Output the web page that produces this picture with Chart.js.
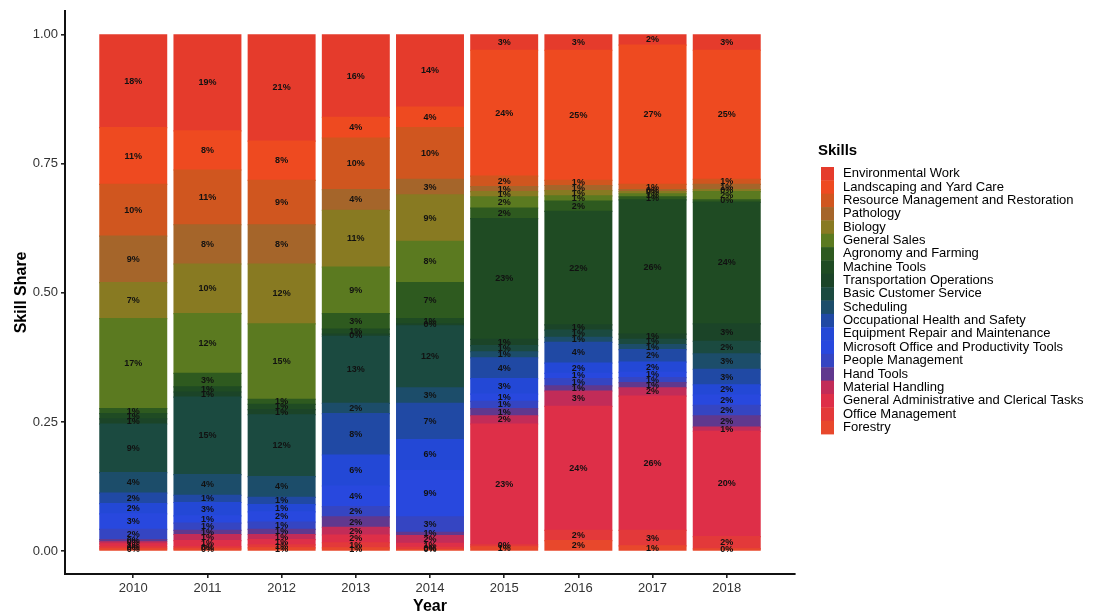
<!DOCTYPE html>
<html><head><meta charset="utf-8">
<script src="https://cdn.jsdelivr.net/npm/chart.js@4.4.0/dist/chart.umd.min.js"></script>
<style>html,body{margin:0;padding:0;background:#fff}canvas{display:block}</style>
</head><body>
<canvas id="c" width="1099" height="616"></canvas>
<script>
const years = ['2010','2011','2012','2013','2014','2015','2016','2017','2018'];
const skills = ['Environmental Work','Landscaping and Yard Care','Resource Management and Restoration','Pathology','Biology','General Sales','Agronomy and Farming','Machine Tools','Transportation Operations','Basic Customer Service','Scheduling','Occupational Health and Safety','Equipment Repair and Maintenance','Microsoft Office and Productivity Tools','People Management','Hand Tools','Material Handling','General Administrative and Clerical Tasks','Office Management','Forestry'];
const colors = ['#E53B2C','#EE4A20','#D0561F','#A5652A','#887A22','#5B7A20','#2E5A1F','#1F4B23','#1B4428','#1B4A40','#1C4D6A','#2049A4','#2348D6','#2848DE','#3545C2','#60388E','#C22C58','#DE2F48','#E3393A','#E8482C'];

const environmentalWork   = [18, 18.6, 20.6, 16, 14, 3, 3, 2, 3];
const landscaping         = [11, 7.6, 7.6, 4, 4, 24.4, 25.2, 27, 25];
const resourceManagement  = [10, 10.6, 8.6, 10, 10, 2, 1, 1, 1];
const pathology           = [9, 7.6, 7.6, 4, 3, 1, 1, 0.4, 1];
const biology             = [7, 9.6, 11.6, 11, 9, 1, 1, 0.4, 0.4];
const generalSales        = [17.4, 11.6, 14.6, 9, 8, 2.2, 1, 0.6, 1.6];
const agronomy            = [1, 2.6, 1, 3, 7, 2, 2, 0.6, 0.4];
const machineTools        = [1, 1, 1, 1, 1, 23.4, 22, 26, 23.6];
const transportation      = [1, 1, 1, 0.4, 0.4, 1.2, 1, 1, 3.4];
const customerService     = [9.4, 15, 12, 13, 12, 1.2, 1.4, 1, 2.4];
const scheduling          = [4, 4, 4, 2, 3, 1.2, 1, 1, 3];
const occupationalHealth  = [2, 1.4, 1.4, 8, 7, 4, 4, 2.4, 3];
const equipmentRepair     = [2, 2.6, 1.4, 6, 6, 3, 2, 2, 2];
const microsoftOffice     = [3, 1.4, 2, 4, 9, 1.4, 1, 1, 2];
const peopleManagement    = [2, 1.4, 1.4, 2, 3, 1.4, 1.4, 1, 2];
const handTools           = [0.4, 0.8, 1, 2, 0.6, 1.4, 1, 1, 2.2];
const materialHandling    = [0.4, 1.2, 1, 1.5, 1.5, 1.6, 3, 1.6, 0.8];
const generalAdmin        = [0.6, 1.2, 1, 1.5, 0.8, 23.4, 24, 26, 20.4];
const officeManagement    = [0.4, 0.4, 0.6, 1, 0.4, 0.4, 2, 3, 2.4];
const forestry            = [0.4, 0.4, 0.6, 0.6, 0.3, 0.8, 2, 1, 0.4];

const skillValues = [environmentalWork, landscaping, resourceManagement, pathology, biology, generalSales, agronomy, machineTools, transportation, customerService, scheduling, occupationalHealth, equipmentRepair, microsoftOffice, peopleManagement, handTools, materialHandling, generalAdmin, officeManagement, forestry];
const yTicks = [0, 0.25, 0.5, 0.75, 1];

const FONT = '"Liberation Sans", Arial, Helvetica, sans-serif';

const datasets = skills.map((name, k) => ({
  label: name,
  data: skillValues[k].map((v, i) => ({ x: i, y: v / 100 })),
  backgroundColor: colors[k],
  borderWidth: 0,
  inflateAmount: 0.6,
  categoryPercentage: 0.9,
  barPercentage: 1
})).reverse();

const labelPlugin = {
  id: 'segLabels',
  afterDatasetsDraw(chart) {
    const ctx = chart.ctx;
    ctx.save();
    ctx.font = 'bold 9px ' + FONT;
    ctx.fillStyle = '#111';
    ctx.textAlign = 'center';
    ctx.textBaseline = 'middle';
    chart.data.datasets.forEach((ds, di) => {
      const meta = chart.getDatasetMeta(di);
      meta.data.forEach((el, i) => {
        const v = ds.data[i].y * 100;
        const p = el.getProps(['x', 'y', 'base'], true);
        ctx.fillText(Math.round(v) + '%', p.x, (p.y + p.base) / 2);
      });
    });
    ctx.restore();
  }
};

const legendPlugin = {
  id: 'sideLegend',
  afterDraw(chart) {
    const ctx = chart.ctx;
    ctx.save();
    ctx.fillStyle = '#000';
    ctx.font = 'bold 15px ' + FONT;
    ctx.textAlign = 'left';
    ctx.textBaseline = 'middle';
    ctx.fillText('Skills', 818, 151);
    const top = 167, h = 13.35;
    ctx.font = '13px ' + FONT;
    skills.forEach((name, k) => {
      const y = top + k * h;
      ctx.fillStyle = colors[k];
      ctx.fillRect(821, y, 13, h + 0.4);
      ctx.fillStyle = '#000';
      ctx.fillText(name, 843, y + h / 2);
    });
    ctx.restore();
  }
};

new Chart(document.getElementById('c'), {
  type: 'bar',
  data: { datasets },
  plugins: [labelPlugin, legendPlugin],
  options: {
    responsive: false,
    animation: false,
    layout: { padding: { top: 10, right: 304, left: 0, bottom: 0 } },
    plugins: { legend: { display: false }, tooltip: { enabled: false } },
    scales: {
      x: {
        type: 'linear',
        stacked: true,
        offset: false,
        min: -0.92,
        max: 8.92,
        afterBuildTicks: s => { s.ticks = years.map((_, i) => ({ value: i })); },
        afterFit: s => { s.height = 42; },
        ticks: { callback: v => years[v], font: { size: 13, family: FONT }, color: '#333', padding: 3, maxRotation: 0, autoSkip: false },
        grid: { display: true, offset: false, drawOnChartArea: false, drawTicks: true, tickLength: 4, color: '#222', lineWidth: 1.6 },
        border: { display: true, color: '#111', width: 2 },
        title: { display: true, text: 'Year', font: { size: 16, weight: 'bold', family: FONT }, color: '#000', padding: { top: 0, bottom: 0 } }
      },
      y: {
        stacked: true,
        min: -0.0445,
        max: 1.0464,
        afterBuildTicks: s => { s.ticks = yTicks.map(v => ({ value: v })); },
        afterFit: s => { s.width = 65; },
        ticks: { callback: v => Number(v).toFixed(2), font: { size: 13, family: FONT }, color: '#333', padding: 3 },
        grid: { display: true, drawOnChartArea: false, drawTicks: true, tickLength: 4, color: '#222', lineWidth: 1.6 },
        border: { display: true, color: '#111', width: 2 },
        title: { display: true, text: 'Skill Share', font: { size: 16, weight: 'bold', family: FONT }, color: '#000', padding: { top: 12, bottom: 0 } }
      }
    }
  }
});
</script>
</body></html>
